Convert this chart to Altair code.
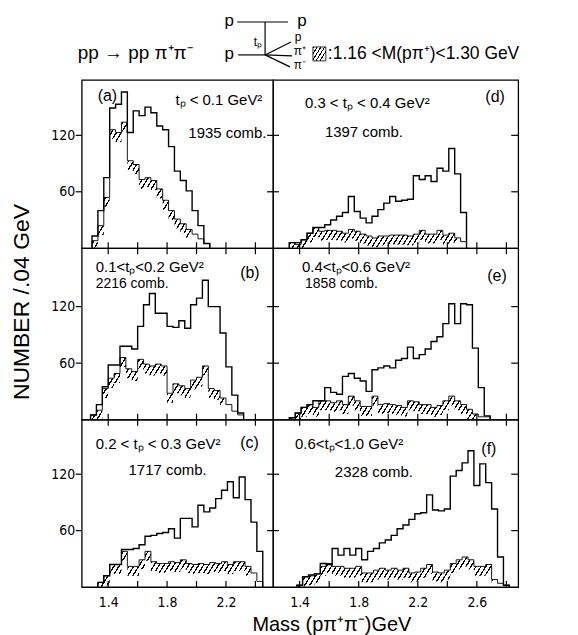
import altair as alt
import pandas as pd

BIN = 0.04  # GeV per histogram bin

# ---------------- data (counts per 0.04 GeV) ----------------
start_a = 1.29
all_a = [13, 40, 75, 149, 153, 166, 123, 146, 141, 150, 144, 130, 126, 108, 82, 72, 61, 40, 24, 5]
hat_a = [8, 24, 54, 126, 123, 134, 93, 89, 73, 75, 72, 63, 51, 40, 31, 26, 20, 15, 10, 5]

start_b = 1.28
all_b = [5, 16, 35, 58, 58, 78, 78, 75, 99, 122, 134, 113, 113, 99, 98, 105, 97, 122, 129, 148,
         120, 120, 92, 56, 26, 7]
hat_b = [5, 10, 33, 44, 49, 66, 54, 51, 64, 59, 57, 59, 57, 28, 38, 36, 33, 42, 45, 57,
         33, 31, 23, 16, 9, 5]

start_c = 1.33
all_c = [5, 12, 24, 24, 40, 40, 41, 45, 54, 55, 57, 58, 62, 52, 73, 73, 64, 87, 80, 84,
         94, 103, 112, 95, 117, 93, 69, 38]
hat_c = [5, 12, 24, 24, 38, 22, 22, 29, 38, 27, 25, 25, 27, 26, 29, 25, 24, 25, 24, 26,
         25, 27, 24, 27, 27, 22, 15, 6]

start_d = 1.33
all_d = [6, 6, 9, 16, 22, 22, 25, 30, 34, 38, 55, 39, 32, 27, 34, 41, 48, 55, 50, 51,
         52, 77, 73, 77, 71, 85, 82, 106, 79, 38]
hat_d = [6, 4, 9, 16, 22, 18, 19, 19, 18, 16, 20, 18, 15, 13, 11, 13, 13, 14, 14, 14,
         13, 15, 19, 15, 15, 19, 14, 16, 11, 7]

start_e = 1.33
all_e = [2, 7, 13, 16, 20, 20, 34, 29, 27, 46, 49, 44, 41, 30, 53, 55, 57, 55, 63, 65,
         77, 65, 69, 75, 83, 88, 102, 123, 102, 123, 122, 76, 34, 4]
hat_e = [2, 7, 13, 16, 13, 20, 20, 18, 20, 16, 25, 20, 14, 14, 25, 16, 17, 16, 15, 13,
         20, 19, 16, 16, 13, 15, 20, 25, 20, 16, 11, 6, 3, 3]

start_f = 1.38
all_f = [2, 11, 13, 14, 25, 24, 41, 34, 41, 34, 41, 29, 38, 41, 47, 50, 55, 62, 66, 72,
         78, 79, 98, 82, 81, 83, 118, 124, 132, 145, 108, 131, 111, 83, 32, 2]
hat_f = [2, 11, 12, 14, 22, 25, 22, 22, 20, 20, 22, 15, 15, 18, 20, 18, 20, 18, 20, 15,
         16, 20, 24, 16, 15, 18, 25, 29, 32, 29, 22, 22, 24, 8, 4, 2]

panel_tags = ["(a)", "(b)", "(c)", "(d)", "(e)", "(f)"]
t_ranges = ["tₚ < 0.1 GeV²", "0.1<tₚ<0.2 GeV²", "0.2 < tₚ < 0.3 GeV²",
            "0.3  < tₚ < 0.4 GeV²", "0.4<tₚ<0.6 GeV²", "0.6<tₚ<1.0 GeV²"]
comb_texts = ["1935 comb.", "2216 comb.", "1717 comb.", "1397 comb.", "1858 comb.", "2328 comb."]

y_ticks = [60, 120]
x_ticks = [[1.4, 1.6, 1.8, 2.0, 2.2, 2.4], [1.4, 1.6, 1.8, 2.0, 2.2, 2.4, 2.6, 2.8]]
x_labels = [[1.4, 1.8, 2.2], [1.4, 1.8, 2.2, 2.6]]

title_reaction = "pp → pp π⁺π⁻"
legend_text = ":1.16 <M(pπ⁺)<1.30 GeV"
y_title = "NUMBER /.04 GeV"
x_title = "Mass (pπ⁺π⁻)GeV"

# ---------------- layout / style ----------------
SANS = "Liberation Sans, Arial, sans-serif"
NARROW = "Liberation Sans Narrow, DejaVu Sans Condensed, Liberation Sans, sans-serif"
LEFT_W, RIGHT_W = 192, 246
ROW_H = [169, 172, 168]
ROW_YMAX = [179, 182, 178]
XDOM = [[1.22, 2.52], [1.22, 2.88]]
BAND = 10  # depth of the hatched fringe, in counts

# (x, y, font size) of tag, t-range and combination texts, relative to each panel
text_pos = {
    "a": dict(tag=(16, 21, 16), tr=(94, 25, 15), cb=(107, 58, 15)),
    "b": dict(tag=(159, 30, 16), tr=(14, 24, 15), cb=(14, 40, 14)),
    "c": dict(tag=(159, 28, 16), tr=(14, 29, 15), cb=(47, 56, 15)),
    "d": dict(tag=(213, 22, 16), tr=(32, 28, 15), cb=(52, 57, 15)),
    "e": dict(tag=(215, 33, 16), tr=(29, 24, 15), cb=(32, 40, 14)),
    "f": dict(tag=(209, 34, 16), tr=(22, 29, 15), cb=(62, 58, 15)),
}


def hatch_fill(width_px, height_px, spacing=5.0, slope=1.6, ink=0.3):
    width_px = max(width_px, 1.0)
    height_px = max(height_px, 1.0)
    g = height_px / (slope * width_px)
    n = max(int(round(width_px * (1 + g * g) / spacing)), 1)
    clear = "rgba(0,0,0,0)"
    stops = []
    for i in range(n):
        a = i / n
        b = (i + ink) / n
        c = (i + 1) / n
        stops += [{"offset": a, "color": "black"}, {"offset": b, "color": "black"},
                  {"offset": b, "color": clear}, {"offset": c, "color": clear}]
    return {"gradient": "linear", "x1": 0, "y1": 0, "x2": 1, "y2": g, "stops": stops}


def step_frame(start, vals):
    n = len(vals)
    m = [start] + [start + i * BIN for i in range(n)] + [start + n * BIN]
    v = [0] + list(vals) + [0]
    return pd.DataFrame({"m": m, "v": v, "i": list(range(n + 2))})


def band_frame(start, vals, depth):
    n = len(vals)
    m = [start + i * BIN for i in range(n)] + [start + n * BIN]
    v = list(vals) + [0]
    lo = [max(x - depth, 0) for x in v]
    return pd.DataFrame({"m": m, "v": v, "lo": lo})


def label(text, x, y, size, align="left", angle=0, baseline="alphabetic", font=SANS):
    kw = dict(align=align, baseline=baseline, fontSize=size, font=font, color="black")
    if angle:
        kw["angle"] = angle
    return alt.Chart(pd.DataFrame({"t": [text]})).mark_text(**kw).encode(
        text="t:N", x=alt.value(x), y=alt.value(y))


def seg(x1, y1, x2, y2, w=1.2, opacity=1.0):
    return alt.Chart(pd.DataFrame({"k": [0]})).mark_rule(
        color="black", strokeWidth=w, opacity=opacity).encode(
        x=alt.value(x1), y=alt.value(y1), x2=alt.value(x2), y2=alt.value(y2))


def build(idx, key, row, col, start, allv, hatv):
    w = LEFT_W if col == 0 else RIGHT_W
    h = ROW_H[row]
    ymax = ROW_YMAX[row]
    xs = alt.Scale(domain=XDOM[col], nice=False, zero=False)
    ys = alt.Scale(domain=[0, ymax], nice=False, zero=False)
    if col == 0:
        yaxis = alt.Axis(values=y_ticks, ticks=False, domain=False, grid=False, labelPadding=7,
                         labelFontSize=14, labelFont=NARROW, labelColor="black")
    else:
        yaxis = None
    if row == 2:
        xaxis = alt.Axis(values=x_labels[col], format=".1f", ticks=False, domain=False, grid=False,
                         labelPadding=8, labelFontSize=14, labelFont=NARROW, labelColor="black",
                         labelAngle=0)
    else:
        xaxis = None

    def X(f):
        return alt.X(f, type="quantitative", scale=xs, axis=xaxis, title=None)

    def Y(f):
        return alt.Y(f, type="quantitative", scale=ys, axis=yaxis, title=None)

    ppc = h / ymax
    ppg = w / (XDOM[col][1] - XDOM[col][0])
    fill = hatch_fill(len(hatv) * BIN * ppg, max(hatv) * ppc)

    layers = []
    layers.append(alt.Chart(band_frame(start, hatv, BAND)).mark_area(
        interpolate="step-after", fill=fill, strokeWidth=0).encode(
        x=X("m"), y=Y("v"), y2=alt.Y2("lo")))
    layers.append(alt.Chart(step_frame(start, hatv)).mark_line(
        interpolate="step-after", color="black", strokeWidth=0.9).encode(
        x=X("m"), y=Y("v"), order="i:Q"))
    layers.append(alt.Chart(step_frame(start, allv)).mark_line(
        interpolate="step-after", color="black", strokeWidth=1.4).encode(
        x=X("m"), y=Y("v"), order="i:Q"))

    yt = pd.DataFrame({"v": y_ticks})
    if col == 0:
        layers.append(alt.Chart(yt).mark_rule(color="black", strokeWidth=1.2).encode(
            y=Y("v"), x=alt.value(-6), x2=alt.value(0)))
    else:
        layers.append(alt.Chart(yt).mark_rule(color="black", strokeWidth=1.2).encode(
            y=Y("v"), x=alt.value(-6), x2=alt.value(6)))
        layers.append(alt.Chart(yt).mark_rule(color="black", strokeWidth=1.2).encode(
            y=Y("v"), x=alt.value(w - 7), x2=alt.value(w)))
    xt = pd.DataFrame({"m": x_ticks[col]})
    if row > 0:
        layers.append(alt.Chart(xt).mark_rule(color="black", strokeWidth=1.2).encode(
            x=X("m"), y=alt.value(-6), y2=alt.value(6)))
    if row == 2:
        layers.append(alt.Chart(xt).mark_rule(color="black", strokeWidth=1.2).encode(
            x=X("m"), y=alt.value(h - 6), y2=alt.value(h)))

    p = text_pos[key]
    layers.append(label(panel_tags[idx], p["tag"][0], p["tag"][1], p["tag"][2]))
    layers.append(label(t_ranges[idx], p["tr"][0], p["tr"][1], p["tr"][2]))
    layers.append(label(comb_texts[idx], p["cb"][0], p["cb"][1], p["cb"][2]))

    if key == "a":
        # header: reaction, diagram, legend
        layers.append(label(title_reaction, -4, -21, 19))
        layers.append(label("p", 148, -54, 17, align="center"))
        layers.append(seg(156, -58, 207, -58))
        layers.append(label("p", 221, -54, 17, align="center"))
        layers.append(seg(184, -58, 184, -25))
        layers.append(label("tₚ", 181, -34, 12, align="right"))
        layers.append(label("p", 148, -21, 17, align="center"))
        layers.append(seg(157, -25, 184, -25))
        layers.append(seg(184, -25, 210, -38))
        layers.append(seg(184, -25, 211, -24))
        layers.append(seg(184, -25, 209, -13))
        layers.append(label("p", 217, -39, 12, align="center"))
        layers.append(label("π⁺", 219, -25, 12, align="center"))
        layers.append(label("π⁻", 219, -11, 12, align="center"))
        layers.append(alt.Chart(pd.DataFrame({"k": [0]})).mark_rect(
            fill=hatch_fill(13, 14, spacing=4.0), stroke="black", strokeWidth=0.8).encode(
            x=alt.value(232), x2=alt.value(245), y=alt.value(-33), y2=alt.value(-19)))
        layers.append(label(legend_text, 247, -21, 17.5))
        layers.append(label(y_title, -60, 223, 23, align="center", angle=270, baseline="middle"))
        layers.append(seg(-80.5, -77.5, -79.5, -77.5, w=1, opacity=0))
    if key == "c":
        layers.append(label(x_title, 251, 212, 20, align="center"))
    if key == "f":
        layers.append(seg(303.5, 215.5, 304.5, 215.5, w=1, opacity=0))

    return alt.layer(*layers).properties(width=w, height=h)


pa = build(0, "a", 0, 0, start_a, all_a, hat_a)
pb = build(1, "b", 1, 0, start_b, all_b, hat_b)
pc = build(2, "c", 2, 0, start_c, all_c, hat_c)
pd_ = build(3, "d", 0, 1, start_d, all_d, hat_d)
pe = build(4, "e", 1, 1, start_e, all_e, hat_e)
pf = build(5, "f", 2, 1, start_f, all_f, hat_f)

chart = alt.concat(pa, pd_, pb, pe, pc, pf, columns=2, spacing=0, bounds="flush",
                   align="each").properties(
    padding=0, background="white"
).configure_view(stroke="black", strokeWidth=1.3)

chart.save("out.html", embed_options={"renderer": "svg", "actions": False})
